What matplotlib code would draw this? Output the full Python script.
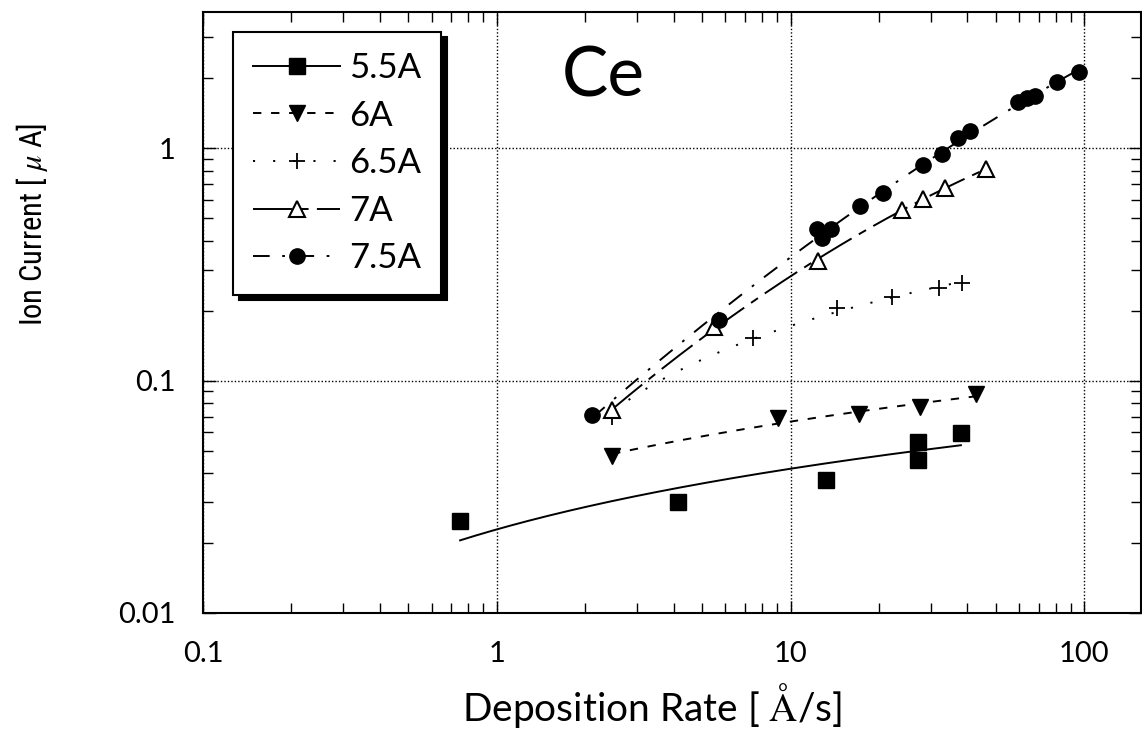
import numpy as np
import matplotlib
matplotlib.use("Agg")
import matplotlib.pyplot as plt
from matplotlib import font_manager
from matplotlib.font_manager import FontProperties
from matplotlib.lines import Line2D
from matplotlib.ticker import NullFormatter, LogLocator

plt.rcParams['font.family'] = ['Lato', 'DejaVu Sans']
plt.rcParams['mathtext.fontset'] = 'stix'
plt.rcParams['lines.scale_dashes'] = False

# Ce ion current versus deposition rate, one series per filament current
rate_55 = [0.75, 4.15, 13.2, 27.1, 27.1, 38.0]
ion_55 = [0.0249, 0.030, 0.0373, 0.0544, 0.0455, 0.0595]

rate_60 = [2.47, 9.03, 17.1, 27.6, 42.8]
ion_60 = [0.0473, 0.069, 0.0718, 0.0769, 0.0875]

rate_65 = [2.47, 7.42, 14.4, 22.1, 32.0, 38.3]
ion_65 = [0.070, 0.152, 0.205, 0.229, 0.250, 0.263]

rate_70 = [2.47, 5.50, 12.4, 23.9, 28.2, 33.5, 46.3]
ion_70 = [0.0747, 0.170, 0.327, 0.541, 0.604, 0.673, 0.812]

rate_75 = [2.11, 5.72, 12.3, 12.8, 13.7, 17.2, 20.6, 28.2, 32.8, 37.2,
           40.8, 59.5, 63.9, 68.0, 80.9, 96.2]
ion_75 = [0.0711, 0.182, 0.449, 0.410, 0.449, 0.563, 0.640, 0.845, 0.942,
          1.104, 1.18, 1.58, 1.64, 1.67, 1.92, 2.12]

labels = ['5.5A', '6A', '6.5A', '7A', '7.5A']
x_ticks = [0.1, 1, 10, 100]
x_ticklabels = ['0.1', '1', '10', '100']
y_ticks = [0.01, 0.1, 1]
y_ticklabels = ['0.01', '0.1', '1']


def fit_log(x, y):
    """y = a + b*log10(x), evaluated over the data range."""
    lx = np.log10(x)
    c = np.polyfit(lx, y, 1)
    xs = np.logspace(lx.min(), lx.max(), 200)
    return xs, np.polyval(c, np.log10(xs))


def fit_loglog2(x, y):
    """Quadratic in log-log space, evaluated over the data range."""
    lx = np.log10(x)
    c = np.polyfit(lx, np.log10(y), 2)
    xs = np.logspace(lx.min(), lx.max(), 200)
    return xs, 10 ** np.polyval(c, np.log10(xs))


def narrow_sans():
    """Return a condensed sans-serif regular face if one is installed."""
    prefer = ['Open Sans', 'Noto Sans', 'Roboto', 'Liberation Sans',
              'DejaVu Sans', 'Lato', 'Inter']
    found = []
    for f in font_manager.fontManager.ttflist:
        narrow = ('Narrow' in f.name or 'Condensed' in f.name
                  or f.stretch in ('condensed', 'semi-condensed',
                                   'extra-condensed', 'ultra-condensed'))
        regular = f.style == 'normal' and f.weight in (400, 'normal',
                                                       'regular', 'book')
        if narrow and regular and 'Mono' not in f.name \
                and 'Serif' not in f.name:
            rank = next((i for i, p in enumerate(prefer)
                         if f.name.startswith(p)), len(prefer))
            found.append((rank, f.fname))
    if found:
        found.sort()
        return found[0][1]
    return None


LW = 1.4
series = [
    dict(x=rate_55, y=ion_55, fit=fit_log, ls='-',
         mk=dict(marker='s', ms=11, mfc='k', mec='k', mew=1)),
    dict(x=rate_60, y=ion_60, fit=fit_log, ls=(0, (6, 7)),
         mk=dict(marker='v', ms=12, mfc='k', mec='k', mew=1)),
    dict(x=rate_65, y=ion_65, fit=fit_log, ls=(0, (1.5, 13)),
         mk=dict(marker='+', ms=12, mfc='k', mec='k', mew=1.3)),
    dict(x=rate_70, y=ion_70, fit=fit_loglog2, ls=(0, (28, 6, 6, 6)),
         mk=dict(marker='^', ms=11, mfc='white', mec='k', mew=1.5)),
    dict(x=rate_75, y=ion_75, fit=fit_loglog2, ls=(0, (12, 9, 2, 9)),
         mk=dict(marker='o', ms=11, mfc='k', mec='k', mew=1)),
]

fig = plt.figure(figsize=(11.42, 7.30), dpi=100)
ax = fig.add_axes([0.1778, 0.1603, 0.8214, 0.8233])
ax.set_xscale('log')
ax.set_yscale('log')
ax.set_xlim(0.1, 156)
ax.set_ylim(0.01, 3.85)

handles = []
for s in series:
    x = np.asarray(s['x'], float)
    y = np.asarray(s['y'], float)
    xs, ys = s['fit'](x, y)
    ax.plot(xs, ys, color='k', lw=LW, ls=s['ls'], zorder=2)
    ax.plot(x, y, ls='none', zorder=3, **s['mk'])
    handles.append(Line2D([], [], color='k', lw=LW, ls=s['ls'], **s['mk']))

ax.grid(True, which='major', color='k', lw=1.0, ls=(0, (1, 1.5)))
ax.set_axisbelow(True)

ax.set_xticks(x_ticks)
ax.set_xticklabels(x_ticklabels)
ax.set_yticks(y_ticks)
ax.set_yticklabels(y_ticklabels)
ax.xaxis.set_minor_locator(LogLocator(base=10, subs=np.arange(2, 10)))
ax.yaxis.set_minor_locator(LogLocator(base=10, subs=np.arange(2, 10)))
ax.xaxis.set_minor_formatter(NullFormatter())
ax.yaxis.set_minor_formatter(NullFormatter())
ax.tick_params(which='both', direction='in', top=True, right=True,
               width=1.0, labelsize=21, pad=20)
ax.tick_params(which='major', length=9)
ax.tick_params(which='minor', length=7)
for sp in ax.spines.values():
    sp.set_linewidth(1.5)

ax.set_xlabel('Deposition Rate [ $\\mathrm{\\AA}$/s]', fontsize=28)
ax.xaxis.set_label_coords(0.479, -0.113)

# condensed face for the vertical label when one is available
narrow_file = narrow_sans()
if narrow_file:
    ylab_prop = FontProperties(fname=narrow_file, size=22)
else:
    ylab_prop = FontProperties(family=['Lato', 'DejaVu Sans'], size=17.5)
ax.set_ylabel('Ion Current [ $\\mu$ A]', fontproperties=ylab_prop)
ax.yaxis.set_label_coords(-0.163, 0.646)

ax.text(0.4264, 0.892, 'Ce', transform=ax.transAxes, ha='center',
        va='center', fontsize=50)

leg = ax.legend(handles, labels, loc='upper left',
                bbox_to_anchor=(0.032, 0.967), borderaxespad=0,
                fontsize=25, handlelength=2.5, handletextpad=0.25,
                labelspacing=0.45, borderpad=0.58, numpoints=1,
                frameon=True, fancybox=False, edgecolor='k', framealpha=1,
                shadow={'ox': 4, 'oy': -4, 'color': 'k', 'alpha': 1})
leg.get_frame().set_linewidth(1.5)

fig.savefig('out.png', dpi=100)
